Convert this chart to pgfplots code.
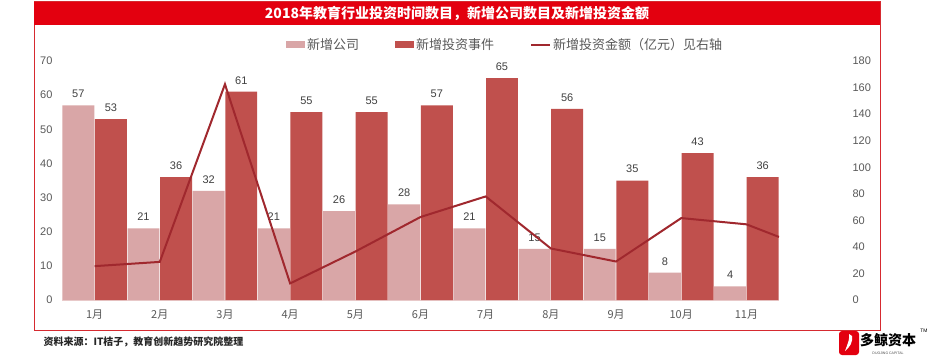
\documentclass[border=0pt]{standalone}
\usepackage{pgfplots}
\pgfplotsset{compat=1.18}
\usepackage{fontspec}
\setmainfont{Liberation Sans}
\newfontfamily\cjk{Noto Sans CJK SC}
\definecolor{pinkbar}{HTML}{D9A6A7}
\definecolor{darkbar}{HTML}{C0504D}
\definecolor{linered}{HTML}{A0282E}
\definecolor{titlered}{HTML}{E3000F}
\definecolor{framered}{HTML}{D62A30}
\definecolor{txtgray}{HTML}{595959}
\definecolor{labgray}{HTML}{404040}
\definecolor{axisline}{HTML}{EBCFCF}
\pgfplotsset{/pgf/number format/assume math mode=true}
\begin{document}
\begin{tikzpicture}
\path[use as bounding box] (0pt,0pt) rectangle (933pt,-361pt);
\fill[white] (0pt,0pt) rectangle (933pt,-361pt);
\draw[framered, line width=1pt] (34pt,-2pt) rectangle (880pt,-330pt);
\fill[titlered] (34pt,-2pt) rectangle (880pt,-25pt);
\node[text=white, font=\cjk\bfseries\fontsize{14}{16}\selectfont] at (457pt,-13.5pt) {2018年教育行业投资时间数目，新增公司数目及新增投资金额};

\begin{axis}[at={(62pt,-300pt)}, anchor=south west, width=717pt, height=239pt, scale only axis,
  xmin=-0.5, xmax=10.5, ymin=0, ymax=70, ytick={0,10,...,70},
  xtick={0,...,10}, xticklabels={1月,2月,3月,4月,5月,6月,7月,8月,9月,10月,11月},
  axis lines*=left, y axis line style={draw=none}, x axis line style={draw=axisline, line width=1pt, -},
  tick style={draw=none}, major tick length=0pt,
  yticklabel style={font=\fontsize{11}{13}\selectfont, text=txtgray, anchor=east, xshift=-6pt},
  xticklabel style={font=\cjk\fontsize{11}{13}\selectfont, text=txtgray, yshift=-6pt},
  ybar, bar width=0.49,
  nodes near coords,
  every node near coord/.append style={font=\fontsize{11}{13}\selectfont, text=labgray, anchor=south, yshift=4pt},
  legend style={at={(0.618,1.067)}, anchor=center, legend columns=3, draw=none, fill=none,
    font=\cjk\fontsize{13}{15}\selectfont, text=txtgray,
    /tikz/every even column/.append style={column sep=34pt}},
  legend cell align=left,
]
\addplot[fill=pinkbar, draw=none, bar shift=-0.25,
  legend image code/.code={\fill[pinkbar] (0pt,-3.5pt) rectangle (19pt,3.5pt);}]
  coordinates {(0,57)(1,21)(2,32)(3,21)(4,26)(5,28)(6,21)(7,15)(8,15)(9,8)(10,4)};
\addlegendentry{新增公司}
\addplot[fill=darkbar, draw=none, bar shift=0.25,
  legend image code/.code={\fill[darkbar] (0pt,-3.5pt) rectangle (19pt,3.5pt);}]
  coordinates {(0,53)(1,36)(2,61)(3,55)(4,55)(5,57)(6,65)(7,56)(8,35)(9,43)(10,36)};
\addlegendentry{新增投资事件}
\addlegendimage{legend image code/.code={\draw[linered, line width=2pt] (0pt,0pt) -- (19pt,0pt);}}
\addlegendentry{新增投资金额（亿元）见右轴}
\end{axis}

\begin{axis}[at={(62pt,-300pt)}, anchor=south west, width=717pt, height=239pt, scale only axis,
  xmin=-0.5, xmax=10.5, ymin=0, ymax=180, ytick={0,20,...,180},
  axis y line*=right, axis x line=none, y axis line style={draw=none},
  tick style={draw=none}, major tick length=0pt, xtick=\empty,
  yticklabel style={font=\fontsize{11}{13}\selectfont, text=txtgray, anchor=west, xshift=70pt},
]
\addplot[linered, line width=2pt, mark=none]
  coordinates {(0,25.5)(1,28.7)(2,162.5)(3,12.5)(4,36.5)(5,62.5)(6,78)(7,38.8)(8,29)(9,61.7)(10,57)(10.5,47.5)};
\end{axis}

\node[anchor=west, font=\cjk\bfseries\fontsize{10}{12}\selectfont, text=black!85] at (40pt,-342pt) {资料来源：IT桔子，教育创新趋势研究院整理};
\fill[titlered, rounded corners=3pt] (839pt,-331pt) rectangle (859pt,-355pt);
\fill[white] (845pt,-351pt) .. controls (848pt,-343pt) and (850pt,-338pt) .. (849pt,-334pt) -- (852pt,-336pt) .. controls (853pt,-342pt) and (850pt,-347pt) .. (845pt,-351pt);
\node[font=\cjk\bfseries\fontsize{14}{16}\selectfont] at (888pt,-340pt) {多鲸资本};
\node[font=\fontsize{3.5}{4}\selectfont, text=black!70] at (888pt,-353pt) {DUOJING CAPITAL};
\node[font=\fontsize{5}{6}\selectfont] at (924pt,-331pt) {TM};
\end{tikzpicture}
\end{document}
